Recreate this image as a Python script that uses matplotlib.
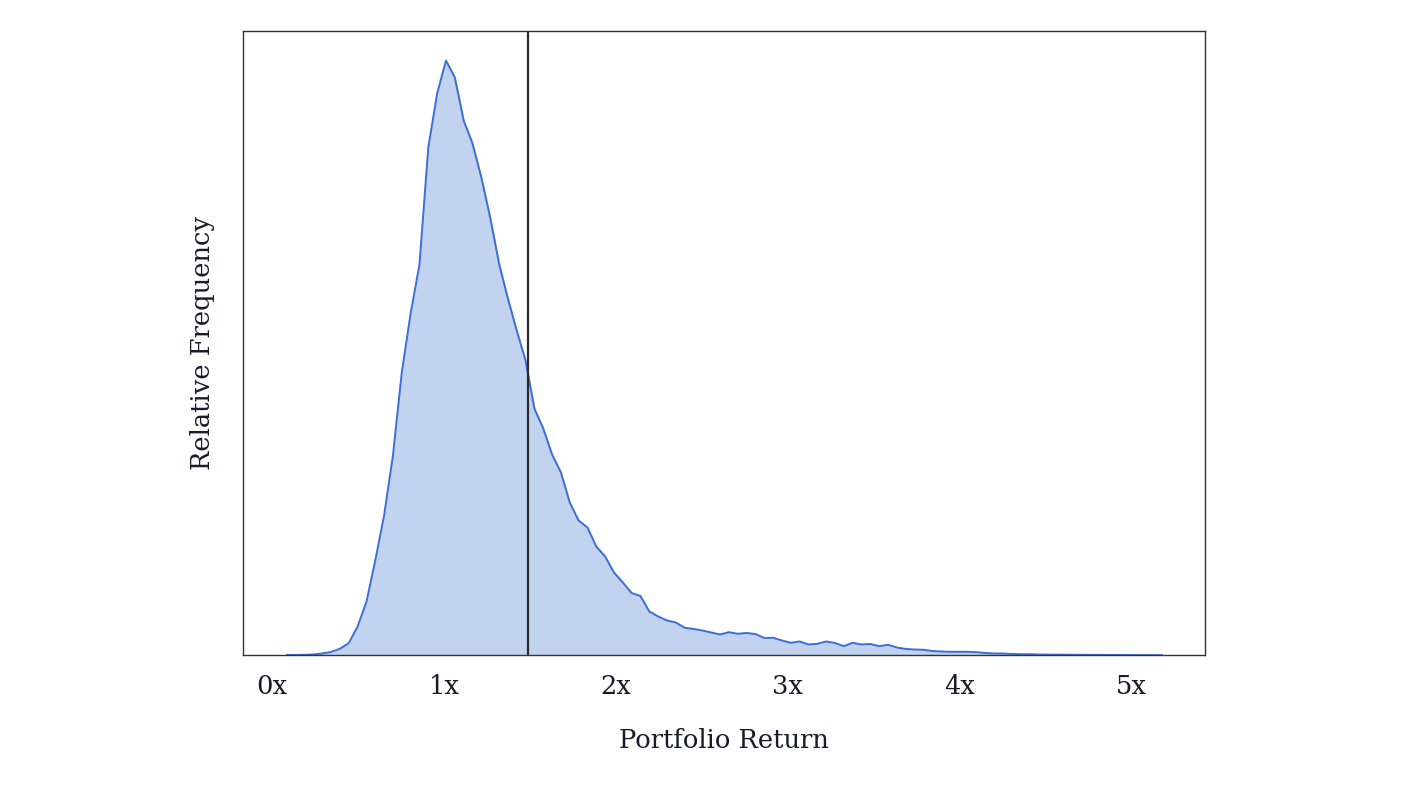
import matplotlib.pyplot as plt
import numpy as np

# histogram of simulated portfolio returns (100 bins), heights
bin_first = 0.085
bin_last = 5.18
freq = [
    0.5, 0.5, 0.7, 1.0, 2.0, 3.5, 6.7, 12.3, 29, 53.5,
    95, 140, 200, 283, 342, 391, 508, 562, 595, 578,
    535, 512, 478, 438, 392, 357, 325, 295, 247, 227,
    201, 183, 153, 135, 128, 109, 99, 83, 73, 62.5,
    59.5, 44, 39, 35, 33, 27.7, 26.5, 25, 23, 21,
    23.3, 21.7, 22.5, 21.5, 17.5, 17.7, 15, 12.7, 14, 11,
    11.7, 14, 12.5, 9.3, 12.7, 11, 11.5, 9.3, 10.7, 8,
    6.5, 6, 5.7, 4.5, 4, 3.7, 3.7, 3.7, 3.3, 2.5,
    2, 2, 1.5, 1.3, 1.3, 1.0, 0.9, 0.8, 0.8, 0.7,
    0.7, 0.6, 0.6, 0.5, 0.5, 0.5, 0.4, 0.4, 0.4, 0.3,
]
mean_return = 1.49
tick_values = [0, 1, 2, 3, 4, 5]
tick_labels = ['0x', '1x', '2x', '3x', '4x', '5x']

x = np.linspace(bin_first, bin_last, len(freq))

plt.rcParams['font.family'] = ['DejaVu Serif']

fig = plt.figure(figsize=(14.09, 7.85), dpi=100)
ax = fig.add_axes([0.1725, 0.165, 0.6827, 0.7955])

line_color = '#3d6fd6'
ax.fill_between(x, 0, freq, color='#c1d3ef', zorder=1)
ax.plot(x, freq, color=line_color, linewidth=1.4, zorder=2)
ax.axvline(mean_return, color='#2b2b2b', linewidth=1.6, zorder=3)

ax.set_xlim(-0.17, 5.43)
ax.set_ylim(0, 624.5)
ax.set_yticks([])
ax.set_xticks(tick_values)
ax.set_xticklabels(tick_labels)
ax.tick_params(axis='x', length=0, pad=13, labelsize=18.5, labelcolor='#1a1a2a')

for s in ax.spines.values():
    s.set_color('#333333')
    s.set_linewidth(1.0)

ax.set_xlabel('Portfolio Return', fontsize=18.5, labelpad=21, color='#1a1a2a')
ax.set_ylabel('Relative Frequency', fontsize=18.5, labelpad=20, color='#1a1a2a')

fig.savefig('out.png', dpi=100, facecolor='white')
